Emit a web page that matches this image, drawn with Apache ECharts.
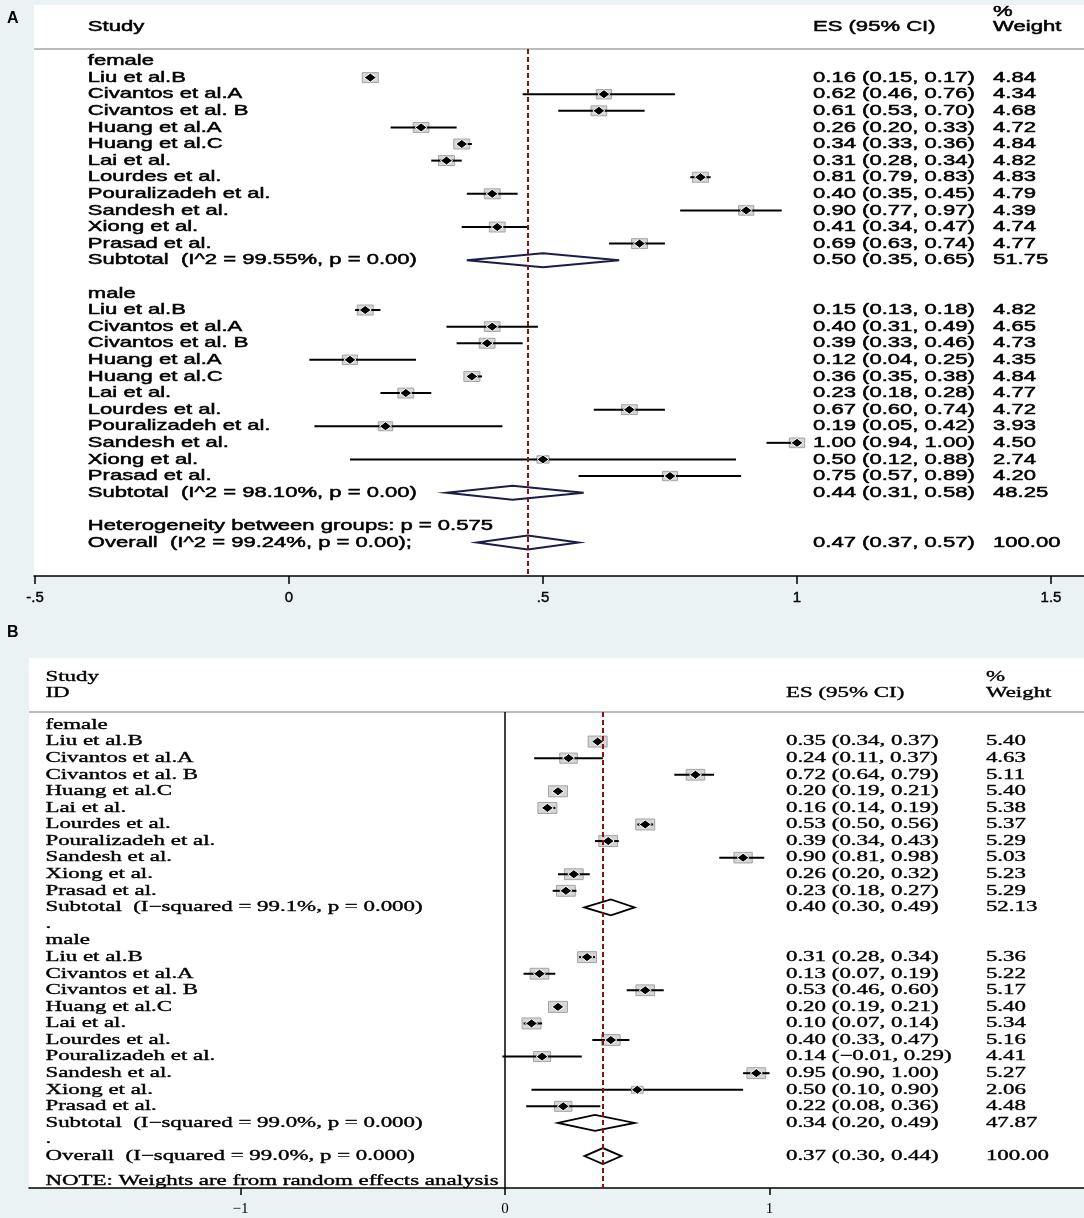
<!DOCTYPE html>
<html>
<head>
<meta charset="utf-8">
<script src="https://cdn.jsdelivr.net/npm/echarts@6/dist/echarts.min.js"></script>
<style>
html, body { margin: 0; padding: 0; background: #eaf2f3; }
#chart { width: 1084px; height: 1218px; }
</style>
</head>
<body>
<div id="chart"></div>
<script>
// ---------- panel A : sans-serif forest plot ----------
var studyA = ['Liu et al.B', 'Civantos et al.A', 'Civantos et al. B', 'Huang et al.A', 'Huang et al.C', 'Lai et al.',
              'Lourdes et al.', 'Pouralizadeh et al.', 'Sandesh et al.', 'Xiong et al.', 'Prasad et al.'];
var femEsA = [0.16, 0.62, 0.61, 0.26, 0.34, 0.31, 0.81, 0.40, 0.90, 0.41, 0.69];
var femLoA = [0.15, 0.46, 0.53, 0.20, 0.33, 0.28, 0.79, 0.35, 0.77, 0.34, 0.63];
var femHiA = [0.17, 0.76, 0.70, 0.33, 0.36, 0.34, 0.83, 0.45, 0.97, 0.47, 0.74];
var femWtA = [4.84, 4.34, 4.68, 4.72, 4.84, 4.82, 4.83, 4.79, 4.39, 4.74, 4.77];
var maleEsA = [0.15, 0.40, 0.39, 0.12, 0.36, 0.23, 0.67, 0.19, 1.00, 0.50, 0.75];
var maleLoA = [0.13, 0.31, 0.33, 0.04, 0.35, 0.18, 0.60, 0.05, 0.94, 0.12, 0.57];
var maleHiA = [0.18, 0.49, 0.46, 0.25, 0.38, 0.28, 0.74, 0.42, 1.00, 0.88, 0.89];
var maleWtA = [4.82, 4.65, 4.73, 4.35, 4.84, 4.77, 4.72, 3.93, 4.50, 2.74, 4.20];
// pooled estimates: [es, lo, hi, weight]
var femPoolA = [0.50, 0.35, 0.65, 51.75];
var malePoolA = [0.44, 0.31, 0.58, 48.25];
var overallA = [0.47, 0.37, 0.57, 100.00];
var ticksA = [-0.5, 0, 0.5, 1, 1.5];

// ---------- panel B : serif forest plot ----------
var studyB = ['Liu et al.B', 'Civantos et al.A', 'Civantos et al. B', 'Huang et al.C', 'Lai et al.', 'Lourdes et al.',
              'Pouralizadeh et al.', 'Sandesh et al.', 'Xiong et al.', 'Prasad et al.'];
var femEsB = [0.35, 0.24, 0.72, 0.20, 0.16, 0.53, 0.39, 0.90, 0.26, 0.23];
var femLoB = [0.34, 0.11, 0.64, 0.19, 0.14, 0.50, 0.34, 0.81, 0.20, 0.18];
var femHiB = [0.37, 0.37, 0.79, 0.21, 0.19, 0.56, 0.43, 0.98, 0.32, 0.27];
var femWtB = [5.40, 4.63, 5.11, 5.40, 5.38, 5.37, 5.29, 5.03, 5.23, 5.29];
var maleEsB = [0.31, 0.13, 0.53, 0.20, 0.10, 0.40, 0.14, 0.95, 0.50, 0.22];
var maleLoB = [0.28, 0.07, 0.46, 0.19, 0.07, 0.33, -0.01, 0.90, 0.10, 0.08];
var maleHiB = [0.34, 0.19, 0.60, 0.21, 0.14, 0.47, 0.29, 1.00, 0.90, 0.36];
var maleWtB = [5.36, 5.22, 5.17, 5.40, 5.34, 5.16, 4.41, 5.27, 2.06, 4.48];
var femPoolB = [0.40, 0.30, 0.49, 52.13];
var malePoolB = [0.34, 0.20, 0.49, 47.87];
var overallB = [0.37, 0.30, 0.44, 100.00];
var ticksB = [-1, 0, 1];

function addGroup(rows, y0, name, st, es, lo, hi, wt, pool, poolLabel) {
    rows.push({y: y0, label: name});
    for (var i = 0; i < st.length; i++) {
        rows.push({y: y0 + 1 + i, label: st[i], kind: 'study', es: es[i], lo: lo[i], hi: hi[i], w: wt[i]});
    }
    rows.push({y: y0 + 1 + st.length, label: poolLabel, kind: 'pool', es: pool[0], lo: pool[1], hi: pool[2], w: pool[3]});
}

var rowsA = [
    {y: -2.98, wText: '%'},
    {y: -2.05, label: 'Study', esText: 'ES (95% CI)', wText: 'Weight'}
];
addGroup(rowsA, 0, 'female', studyA, femEsA, femLoA, femHiA, femWtA, femPoolA, 'Subtotal  (I^2 = 99.55%, p = 0.00)');
addGroup(rowsA, 14, 'male', studyA, maleEsA, maleLoA, maleHiA, maleWtA, malePoolA, 'Subtotal  (I^2 = 98.10%, p = 0.00)');
rowsA.push({y: 28, label: 'Heterogeneity between groups: p = 0.575'});
rowsA.push({y: 29, label: 'Overall  (I^2 = 99.24%, p = 0.00);', kind: 'pool',
            es: overallA[0], lo: overallA[1], hi: overallA[2], w: overallA[3]});

var rowsB = [
    {y: -2.9, label: 'Study', wText: '%'},
    {y: -1.93, label: 'ID', esText: 'ES (95% CI)', wText: 'Weight'}
];
addGroup(rowsB, 0, 'female', studyB, femEsB, femLoB, femHiB, femWtB, femPoolB, 'Subtotal  (I\u2212squared = 99.1%, p = 0.000)');
rowsB.push({y: 12, label: '.'});
addGroup(rowsB, 13, 'male', studyB, maleEsB, maleLoB, maleHiB, maleWtB, malePoolB, 'Subtotal  (I\u2212squared = 99.0%, p = 0.000)');
rowsB.push({y: 25, label: '.'});
rowsB.push({y: 26, label: 'Overall  (I\u2212squared = 99.0%, p = 0.000)', kind: 'pool',
            es: overallB[0], lo: overallB[1], hi: overallB[2], w: overallB[3]});
rowsB.push({y: 27.5, label: 'NOTE: Weights are from random effects analysis'});

// layout of each panel (x positions of text columns in axis units)
var cfgA = {font: '15px "Liberation Sans", Arial, sans-serif', sx: 1.47, bold: 0.5, labelX: -0.396, esX: 1.0315, wX: 1.386,
            wRef: 4.84, boxW: 16, boxH: 10, ciW: 2, poolH: 7, poolW: 2, poolColor: '#1c1c48', minus: '-'};
var cfgB = {font: '14.5px "Liberation Serif", "Times New Roman", serif', sx: 1.58, bold: 0.35, labelX: -1.738, esX: 1.062, wX: 1.818,
            wRef: 5.40, boxW: 19, boxH: 11, ciW: 2, poolH: 8, poolW: 1.8, poolColor: '#000', minus: '\u2212'};

function renderer(rows, cfg) {
    function fmt(v) { return (v < 0 ? cfg.minus : '') + Math.abs(v).toFixed(2); }
    return function (params, api) {
        var r = rows[params.dataIndex];
        var py = api.coord([0, r.y])[1];
        var kids = [];
        function txt(xv, s) {
            kids.push({type: 'text', x: api.coord([xv, r.y])[0], y: py, scaleX: cfg.sx,
                style: {text: s, font: cfg.font, fill: '#000', stroke: '#000', lineWidth: cfg.bold,
                        align: 'left', verticalAlign: 'middle'}});
        }
        if (r.kind) {
            var xl = api.coord([r.lo, r.y])[0], xh = api.coord([r.hi, r.y])[0], xe = api.coord([r.es, r.y])[0];
            if (r.kind === 'study') {
                var f = Math.sqrt(r.w / cfg.wRef);
                var bw = cfg.boxW * f, bh = cfg.boxH * f;
                kids.push({type: 'rect', shape: {x: xe - bw / 2, y: py - bh / 2, width: bw, height: bh},
                    style: {fill: '#d6d6d6', stroke: '#a3a3a3', lineWidth: 1}});
                kids.push({type: 'line', shape: {x1: xl, y1: py, x2: xh, y2: py},
                    style: {stroke: '#000', lineWidth: cfg.ciW}});
                kids.push({type: 'polygon', shape: {points: [[xe - 6, py], [xe, py - 4.5], [xe + 6, py], [xe, py + 4.5]]},
                    style: {fill: '#000', stroke: '#fff', lineWidth: 1}});
            } else {
                var h = cfg.poolH;
                kids.push({type: 'polygon', shape: {points: [[xl, py], [xe, py - h], [xh, py], [xe, py + h]]},
                    style: {fill: '#fff', stroke: cfg.poolColor, lineWidth: cfg.poolW}});
            }
            txt(cfg.esX, fmt(r.es) + ' (' + fmt(r.lo) + ', ' + fmt(r.hi) + ')');
            txt(cfg.wX, r.w.toFixed(2));
        }
        if (r.label) txt(cfg.labelX, r.label);
        if (r.esText) txt(cfg.esX, r.esText);
        if (r.wText) txt(cfg.wX, r.wText);
        return {type: 'group', children: kids};
    };
}

var chart = echarts.init(document.getElementById('chart'));
var option = {
    backgroundColor: '#eaf2f3',
    animation: false,
    graphic: [
        {type: 'text', left: 7, top: 11, style: {text: 'A', font: 'bold 16px "Liberation Sans", Arial', fill: '#000'}},
        {type: 'text', left: 7, top: 625, style: {text: 'B', font: 'bold 16px "Liberation Sans", Arial', fill: '#000'}}
    ],
    grid: [
        {left: 34, top: 5, width: 1050, height: 571, show: true, backgroundColor: '#fff', borderWidth: 0},
        {left: 29, top: 658, width: 1055, height: 530, show: true, backgroundColor: '#fff', borderWidth: 0}
    ],
    xAxis: [
        {gridIndex: 0, type: 'value', min: -0.502, max: 1.565,
         axisLine: {onZero: false, lineStyle: {color: '#000', width: 1.5}},
         axisTick: {customValues: ticksA, length: 8, lineStyle: {color: '#000', width: 1.5}},
         axisLabel: {customValues: ticksA, margin: 14, color: '#000',
                     fontFamily: '"Liberation Sans", Arial, sans-serif', fontSize: 15,
                     textBorderColor: '#000', textBorderWidth: 0.4,
                     formatter: function (v) { return v === 0 ? '0' : String(v).replace(/^(-?)0\./, '$1.'); }},
         splitLine: {show: false}},
        {gridIndex: 1, type: 'value', min: -1.8, max: 2.189,
         axisLine: {onZero: false, lineStyle: {color: '#000', width: 1.5}},
         axisTick: {customValues: ticksB, length: 7, lineStyle: {color: '#000', width: 1.5}},
         axisLabel: {customValues: ticksB, margin: 14, color: '#000',
                     fontFamily: '"Liberation Serif", "Times New Roman", serif', fontSize: 15,
                     formatter: function (v) { return v < 0 ? '\u2212' + Math.abs(v) : String(v); }},
         splitLine: {show: false}}
    ],
    yAxis: [
        {gridIndex: 0, type: 'value', inverse: true, min: -3.373, max: 31.02, show: false},
        {gridIndex: 1, type: 'value', inverse: true, min: -4.041, max: 27.925, show: false}
    ],
    series: [
        {type: 'custom', xAxisIndex: 0, yAxisIndex: 0, silent: true, clip: false,
         renderItem: renderer(rowsA, cfgA),
         data: rowsA.map(function (r) { return [r.es != null ? r.es : 0, r.y]; }),
         encode: {x: 0, y: 1},
         markLine: {silent: true, symbol: ['none', 'none'], label: {show: false},
             data: [
                 {yAxis: -0.723, lineStyle: {color: '#a6a6a6', width: 1.5, type: 'solid'}},
                 [{coord: [overallA[0], -0.723], lineStyle: {color: '#8b1010', width: 2, type: [5, 3]}},
                  {coord: [overallA[0], 31.02]}]
             ]}},
        {type: 'custom', xAxisIndex: 1, yAxisIndex: 1, silent: true, clip: false,
         renderItem: renderer(rowsB, cfgB),
         data: rowsB.map(function (r) { return [r.es != null ? r.es : 0, r.y]; }),
         encode: {x: 0, y: 1},
         markLine: {silent: true, symbol: ['none', 'none'], label: {show: false},
             data: [
                 {yAxis: -0.784, lineStyle: {color: '#a6a6a6', width: 1.5, type: 'solid'}},
                 [{coord: [0, -0.784], lineStyle: {color: '#000', width: 1.5, type: 'solid'}},
                  {coord: [0, 27.925]}],
                 [{coord: [overallB[0], -0.784], lineStyle: {color: '#8b1010', width: 2, type: [5, 3]}},
                  {coord: [overallB[0], 27.925]}]
             ]}}
    ]
};
chart.setOption(option);
</script>
</body>
</html>
